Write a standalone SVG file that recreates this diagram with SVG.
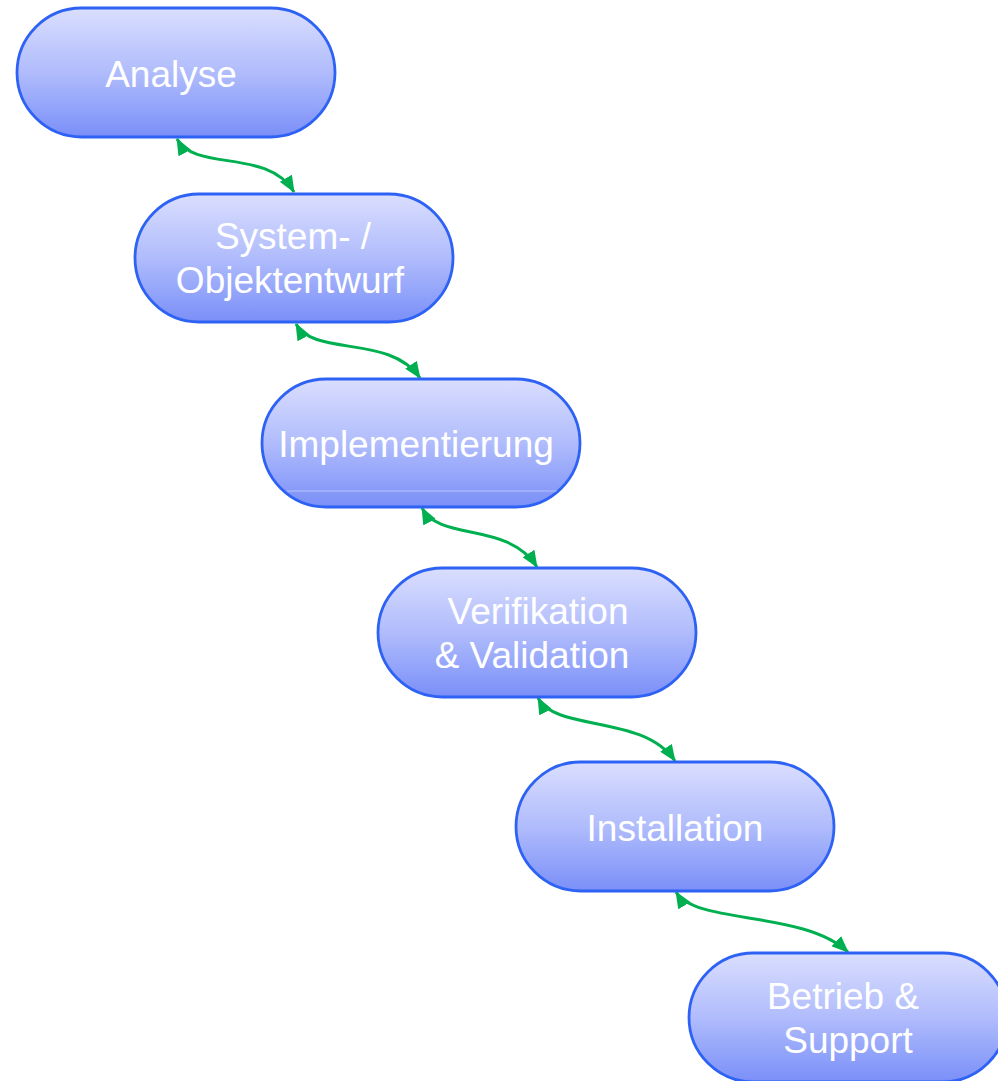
<svg xmlns="http://www.w3.org/2000/svg" width="998" height="1081" viewBox="0 0 998 1081">
  <defs>
    <linearGradient id="pillFill" x1="0" y1="0" x2="0" y2="1">
      <stop offset="0" stop-color="#dadefe"/>
      <stop offset="0.5" stop-color="#b0bcfc"/>
      <stop offset="1" stop-color="#7a8ff8"/>
    </linearGradient>
    <marker id="arrow" viewBox="0 0 17 14" refX="16" refY="7" markerWidth="17" markerHeight="14" markerUnits="userSpaceOnUse" orient="auto-start-reverse">
      <path d="M0,0 L17,7 L0,14 z" fill="#00b050"/>
    </marker>
    <style>
      .pill { fill: url(#pillFill); stroke: #2d62f4; stroke-width: 2.8; }
      .label { font-family: "Liberation Sans", Arial, sans-serif; font-size: 37px; fill: #ffffff; text-anchor: middle; }
      .link { fill: none; stroke: #00b050; stroke-width: 3; marker-start: url(#arrow); marker-end: url(#arrow); }
    </style>
  </defs>

  <rect width="998" height="1081" fill="#ffffff"/>

  <!-- connectors between consecutive phases -->
  <g id="connectors">
    <path class="link" d="M177,139 C195,172 268,148 294,192"/>
    <path class="link" d="M296,324 C314,357 390,334 420,378"/>
    <path class="link" d="M422,508 C440,542 508,521 537,567"/>
    <path class="link" d="M538,698 C556,732 643,714 675,761"/>
    <path class="link" d="M676,892 C696,925 803,910 848,952"/>
  </g>

  <g id="analyse">
    <rect class="pill" x="17" y="8" width="318" height="129" rx="64.5"/>
    <text class="label" x="171" y="87">Analyse</text>
  </g>

  <g id="entwurf">
    <rect class="pill" x="135" y="194" width="318" height="128" rx="64"/>
    <text class="label" x="293" y="249">System- /</text>
    <text class="label" x="290" y="293">Objektentwurf</text>
  </g>

  <g id="implementierung">
    <rect class="pill" x="262" y="379" width="318" height="128" rx="64"/>
    <line x1="287" y1="491" x2="557" y2="491" stroke="#ffffff" stroke-opacity="0.4" stroke-width="1"/>
    <text class="label" x="416" y="457">Implementierung</text>
  </g>

  <g id="verifikation">
    <rect class="pill" x="378" y="568" width="318" height="129" rx="64.5"/>
    <text class="label" x="538" y="624">Verifikation</text>
    <text class="label" x="532" y="668">&amp; Validation</text>
  </g>

  <g id="installation">
    <rect class="pill" x="516" y="762" width="318" height="129" rx="64.5"/>
    <text class="label" x="675" y="841">Installation</text>
  </g>

  <g id="betrieb">
    <rect class="pill" x="689" y="953" width="318" height="129" rx="64.5"/>
    <text class="label" x="843" y="1009">Betrieb &amp;</text>
    <text class="label" x="848" y="1053">Support</text>
  </g>
</svg>
